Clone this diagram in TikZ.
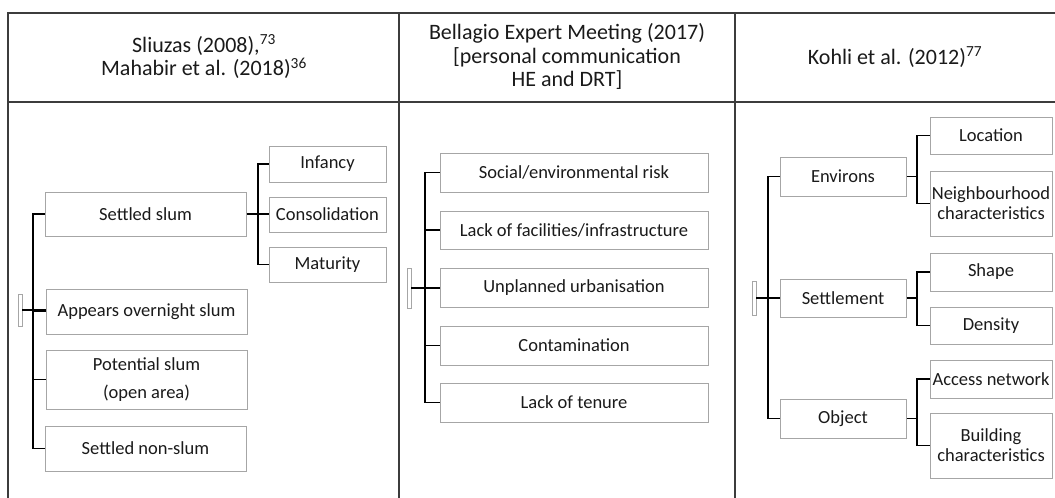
\documentclass[tikz,border=0pt]{standalone}
\usepackage{fontspec}
\setmainfont{Carlito}
\definecolor{boxgray}{HTML}{A6A6A6}
\definecolor{tablegray}{HTML}{3C3C3C}
\definecolor{txt}{HTML}{1A1A1A}
\begin{document}
\begin{tikzpicture}[x=1pt,y=-1pt,
  box/.style={draw=boxgray, line width=1pt, align=center, inner sep=0pt, text=txt,
    font=\fontsize{18.5}{20}\selectfont},
  marker/.style={draw=boxgray, line width=0.8pt, fill=white, inner sep=0pt, minimum width=4pt},
  conn/.style={draw=black, line width=1.6pt},
  grid/.style={draw=tablegray, line width=2pt},
  head/.style={align=center, text=txt, font=\fontsize{22}{23.5}\selectfont, inner sep=0pt}]
\useasboundingbox (0,0) rectangle (1055,498);
% table
\draw[grid] (8,13) -- (1060,13);
\draw[grid] (8,102) -- (1060,102);
\draw[grid] (8,12) -- (8,505);
\draw[grid] (399,12) -- (399,505);
\draw[grid] (735,12) -- (735,505);
% headers
\node[head] (h1) at (204,57) {Sliuzas (2008),\textsuperscript{73}\\Mahabir et al. (2018)\textsuperscript{36}};
\node[head] (h2) at (567,56.5) {Bellagio Expert Meeting (2017)\\{}[personal communication\\HE and DRT]};
\node[head] (h3) at (895,57) {Kohli et al. (2012)\textsuperscript{77}};
% column 1
\node[box, minimum width=201pt, minimum height=44pt] (ss) at (145.5,214) {Settled slum};
\node[box, minimum width=201pt, minimum height=45pt] (ao) at (146.5,311.5) {Appears overnight slum};
\node[box, minimum width=201pt, minimum height=59pt, font=\fontsize{18.5}{28}\selectfont] (ps) at (146.5,379.5) {Potential slum\\(open area)};
\node[box, minimum width=201pt, minimum height=45pt] (sn) at (145.5,448.5) {Settled non-slum};
\node[box, minimum width=117pt, minimum height=36pt] (inf) at (327.5,164) {Infancy};
\node[box, minimum width=117pt, minimum height=35pt] (con) at (327.5,214.5) {Consolidation};
\node[box, minimum width=117pt, minimum height=35pt] (mat) at (327.5,264.5) {Maturity};
\node[marker, minimum height=32pt] (m1) at (20,310) {};
\coordinate (t1) at (33,0);
\coordinate (s1) at (258,0);
\draw[conn] (m1.east) -- (m1.east -| ao.west);
\draw[conn] (ss.west) -- (ss.west -| t1) -- (sn.west -| t1) -- (sn.west);
\draw[conn] (ao.west -| t1) -- (ao.west);
\draw[conn] (ps.west -| t1) -- (ps.west);
\draw[conn] (ss.east) -- (ss.east -| con.west);
\draw[conn] (inf.west) -- (inf.west -| s1) -- (mat.west -| s1) -- (mat.west);
% column 2
\node[box, minimum width=268pt, minimum height=39pt] (r1) at (574,172.5) {Social/environmental risk};
\node[box, minimum width=268pt, minimum height=38pt] (r2) at (574,230) {Lack of facilities/infrastructure};
\node[box, minimum width=268pt, minimum height=39pt] (r3) at (574,287.5) {Unplanned urbanisation};
\node[box, minimum width=268pt, minimum height=39pt] (r4) at (574,345.5) {Contamination};
\node[box, minimum width=268pt, minimum height=39pt] (r5) at (574,402.5) {Lack of tenure};
\node[marker, minimum height=40pt] (m2) at (409,288) {};
\coordinate (t2) at (425,0);
\draw[conn] (m2.east) -- (m2.east -| r3.west);
\draw[conn] (r1.west) -- (r1.west -| t2) -- (r5.west -| t2) -- (r5.west);
\draw[conn] (r2.west -| t2) -- (r2.west);
\draw[conn] (r4.west -| t2) -- (r4.west);
% column 3
\node[box, minimum width=126pt, minimum height=39pt] (env) at (843,176.5) {Environs};
\node[box, minimum width=126pt, minimum height=38pt] (set) at (843,298) {Settlement};
\node[box, minimum width=126pt, minimum height=39pt] (obj) at (843,418.5) {Object};
\node[box, minimum width=122pt, minimum height=37pt] (loc) at (991,135.5) {Location};
\node[box, minimum width=122pt, minimum height=65pt] (nei) at (991,203.5) {Neighbourhood\\characteristics};
\node[box, minimum width=122pt, minimum height=38pt] (shp) at (991,272) {Shape};
\node[box, minimum width=122pt, minimum height=37pt] (den) at (991,325.5) {Density};
\node[box, minimum width=122pt, minimum height=38pt] (acc) at (991,379) {Access network};
\node[box, minimum width=122pt, minimum height=65pt] (bld) at (991,445.5) {Building\\characteristics};
\node[marker, minimum height=34pt] (m3) at (754,298) {};
\coordinate (t3) at (768,0);
\coordinate (s3) at (917,0);
\draw[conn] (m3.east) -- (m3.east -| set.west);
\draw[conn] (env.west) -- (env.west -| t3) -- (obj.west -| t3) -- (obj.west);
\draw[conn] (env.east) -- (env.east -| s3);
\draw[conn] (loc.west) -- (loc.west -| s3) -- (nei.west -| s3) -- (nei.west);
\draw[conn] (set.east) -- (set.east -| s3);
\draw[conn] (shp.west) -- (shp.west -| s3) -- (den.west -| s3) -- (den.west);
\draw[conn] (obj.east) -- (obj.east -| s3);
\draw[conn] (acc.west) -- (acc.west -| s3) -- (bld.west -| s3) -- (bld.west);
\end{tikzpicture}
\end{document}
